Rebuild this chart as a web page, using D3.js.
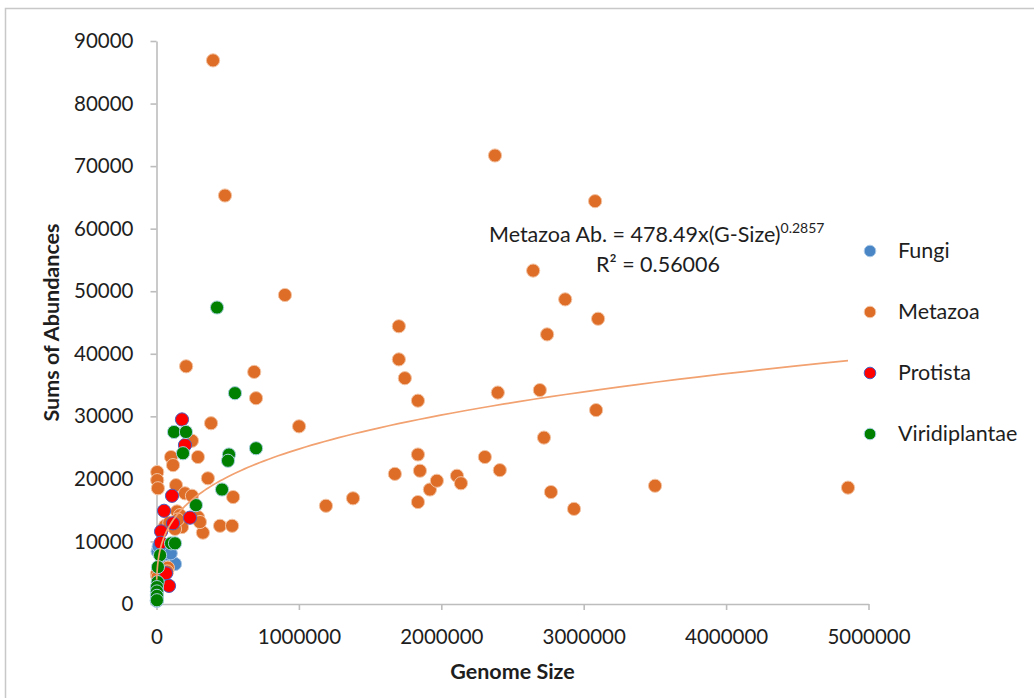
<!DOCTYPE html>
<html>
<head>
<meta charset="utf-8">
<script src="https://cdn.jsdelivr.net/npm/d3@7"></script>
<style>
  html, body { margin: 0; padding: 0; background: #fff; }
  svg { display: block; font-family: Lato, "Open Sans", sans-serif; }
</style>
</head>
<body>
<svg id="chart" width="1034" height="698"></svg>
<script>
// Genome size vs. summed abundances, per kingdom
const seriesNames = ["Fungi", "Metazoa", "Protista", "Viridiplantae"];

const fungiGenome = [8000, 15000, 40000, 60000, 90000, 110000, 130000, 20000, 50000, 4000, 12000, 6000, 3000, 2000, 70000, 100000];
const fungiAbund  = [8400, 9200, 7600, 7000, 7200, 6700, 6400, 6000, 5500, 4600, 3800, 2500, 1500, 500, 8000, 8100];

const metazoaGenome = [
  397000, 481000, 2377000, 3080000, 2645000, 2870000, 3101000, 2743000, 1702000, 1702000,
  1744000, 1836000, 2397000, 2692000, 3087000, 2721000, 1836000, 1850000, 1674000, 1836000,
  1920000, 1969000, 2306000, 2411000, 2110000, 2138000, 2770000, 2932000, 3501000, 4856000,
  1190000, 1380000, 1001000, 902000, 686000, 699000, 208000, 383000, 249000, 291000,
  361000, 538000, 446000, 531000, 326000, 102000, 116000, 5000, 5000, 10000,
  137000, 200000, 249000, 144000, 165000, 291000, 305000, 179000, 60000, 90000,
  130000, 150000, 80000, 75000, 3000, 8000
];
const metazoaAbund = [
  86900, 65300, 71700, 64400, 53300, 48700, 45600, 43100, 44400, 39100,
  36100, 32500, 33800, 34200, 31000, 26600, 23900, 21300, 20800, 16300,
  18300, 19700, 23500, 21400, 20500, 19300, 17900, 15200, 18900, 18600,
  15700, 16900, 28400, 49400, 37100, 32900, 38000, 28900, 26100, 23500,
  20100, 17100, 12500, 12500, 11400, 23500, 22200, 21100, 19800, 18500,
  19000, 17700, 17300, 14800, 14200, 13900, 13100, 12300, 12500, 13000,
  12000, 13500, 5800, 5200, 4800, 4300
];

const protistaGenome = [179000, 200000, 109000, 53000, 235000, 116000, 32000, 30000, 67000, 88000];
const protistaAbund  = [29500, 25400, 17300, 14900, 13800, 12900, 11600, 9800, 4900, 2900];

const viridiGenome = [425000, 551000, 123000, 207000, 186000, 699000, 509000, 502000, 460000, 277000,
                      102000, 130000, 25000, 10000, 8000, 3000, 3000, 3000, 3000];
const viridiAbund  = [47400, 33700, 27500, 27500, 24100, 24900, 23900, 22900, 18300, 15800,
                      9700, 9700, 7800, 5900, 3500, 2700, 2000, 1300, 600];

const xTicks = [0, 1000000, 2000000, 3000000, 4000000, 5000000];
const yTicks = [0, 10000, 20000, 30000, 40000, 50000, 60000, 70000, 80000, 90000];

// Power-law fit for Metazoa: Ab = a * G^b
const fitA = 478.49, fitB = 0.2857;
const fitRange = [1500, 4856000];

const fills   = { Fungi: "#4a86c6", Metazoa: "#de6d28", Protista: "#ff0000", Viridiplantae: "#008000" };
const strokes = { Fungi: "#a9c8e6", Metazoa: "#f3c4a4", Protista: "#4c5fbf", Viridiplantae: "#a9d0e0" };

const series = [
  { name: "Fungi", xs: fungiGenome, ys: fungiAbund },
  { name: "Metazoa", xs: metazoaGenome, ys: metazoaAbund },
  { name: "Protista", xs: protistaGenome, ys: protistaAbund },
  { name: "Viridiplantae", xs: viridiGenome, ys: viridiAbund }
];

const svg = d3.select("#chart");
const margin = { left: 156.5, right: 868.5, top: 41, bottom: 604 };

// outer chart frame
svg.append("rect")
  .attr("x", 5.5).attr("y", 8.5)
  .attr("width", 1100).attr("height", 800)
  .attr("fill", "#fff").attr("stroke", "#c8c8c8").attr("stroke-width", 1.5);

const x = d3.scaleLinear().domain([0, 5000000]).range([margin.left, margin.right]);
const y = d3.scaleLinear().domain([0, 90000]).range([margin.bottom, margin.top]);

const axisColor = "#bdbdbd";
const textColor = "#1e1e1e";

const yAxis = svg.append("g")
  .attr("transform", `translate(${margin.left},0)`)
  .call(d3.axisLeft(y).tickValues(yTicks).tickFormat(d => String(d))
        .tickSize(6).tickSizeOuter(0).tickPadding(17));

const xAxis = svg.append("g")
  .attr("transform", `translate(0,${margin.bottom})`)
  .call(d3.axisBottom(x).tickValues(xTicks).tickFormat(d => String(d))
        .tickSize(6).tickSizeOuter(0).tickPadding(19));

[xAxis, yAxis].forEach(g => {
  g.select(".domain").attr("stroke", axisColor).attr("stroke-width", 1.6);
  g.selectAll(".tick line").attr("stroke", axisColor).attr("stroke-width", 1.6);
  g.selectAll(".tick text").attr("fill", textColor)
    .style("font-size", "20.5px").style("font-family", "Lato, sans-serif");
});

// axis titles
svg.append("text")
  .attr("transform", `translate(59,${(margin.top + margin.bottom) / 2}) rotate(-90)`)
  .attr("text-anchor", "middle")
  .attr("fill", textColor)
  .style("font-size", "21.5px").style("font-weight", "bold")
  .text("Sums of Abundances");

svg.append("text")
  .attr("x", (margin.left + margin.right) / 2).attr("y", 679)
  .attr("text-anchor", "middle")
  .attr("fill", textColor)
  .style("font-size", "21.5px").style("font-weight", "bold")
  .text("Genome Size");

// data points, series drawn in legend order
series.forEach(s => {
  const pts = s.xs.map((v, i) => [v, s.ys[i]]);
  svg.append("g").attr("class", "series-" + s.name)
    .selectAll("circle").data(pts).join("circle")
    .attr("cx", d => x(d[0]))
    .attr("cy", d => y(d[1]))
    .attr("r", 6.6)
    .attr("fill", fills[s.name])
    .attr("stroke", strokes[s.name])
    .attr("stroke-width", 1);
});

// trend curve
const logScale = d3.scaleLog().domain(fitRange).range([0, 1]);
const fitPts = d3.range(0, 1.0001, 0.005).map(t => {
  const g = logScale.invert(t);
  return [g, fitA * Math.pow(g, fitB)];
});
svg.append("path")
  .datum(fitPts)
  .attr("fill", "none")
  .attr("stroke", "#f2a170")
  .attr("stroke-width", 1.7)
  .attr("d", d3.line().x(d => x(d[0])).y(d => y(d[1])));

// equation label
const eq = svg.append("text")
  .attr("x", 489).attr("y", 242)
  .attr("fill", textColor)
  .style("font-size", "21.5px");
eq.append("tspan").text(`Metazoa Ab. = ${fitA}x(G-Size)`);
eq.append("tspan").attr("dy", -9).style("font-size", "14px").text(String(fitB));

svg.append("text")
  .attr("x", 658).attr("y", 272)
  .attr("text-anchor", "middle")
  .attr("fill", textColor)
  .style("font-size", "21.5px")
  .text("R² = 0.56006");

// legend
const legend = svg.append("g");
seriesNames.forEach((name, i) => {
  const ly = 251 + i * 61;
  legend.append("circle")
    .attr("cx", 870).attr("cy", ly).attr("r", 5.8)
    .attr("fill", fills[name]).attr("stroke", strokes[name]).attr("stroke-width", 1);
  legend.append("text")
    .attr("x", 898).attr("y", ly + 7)
    .attr("fill", textColor)
    .style("font-size", "21.5px")
    .text(name);
});
</script>
</body>
</html>
